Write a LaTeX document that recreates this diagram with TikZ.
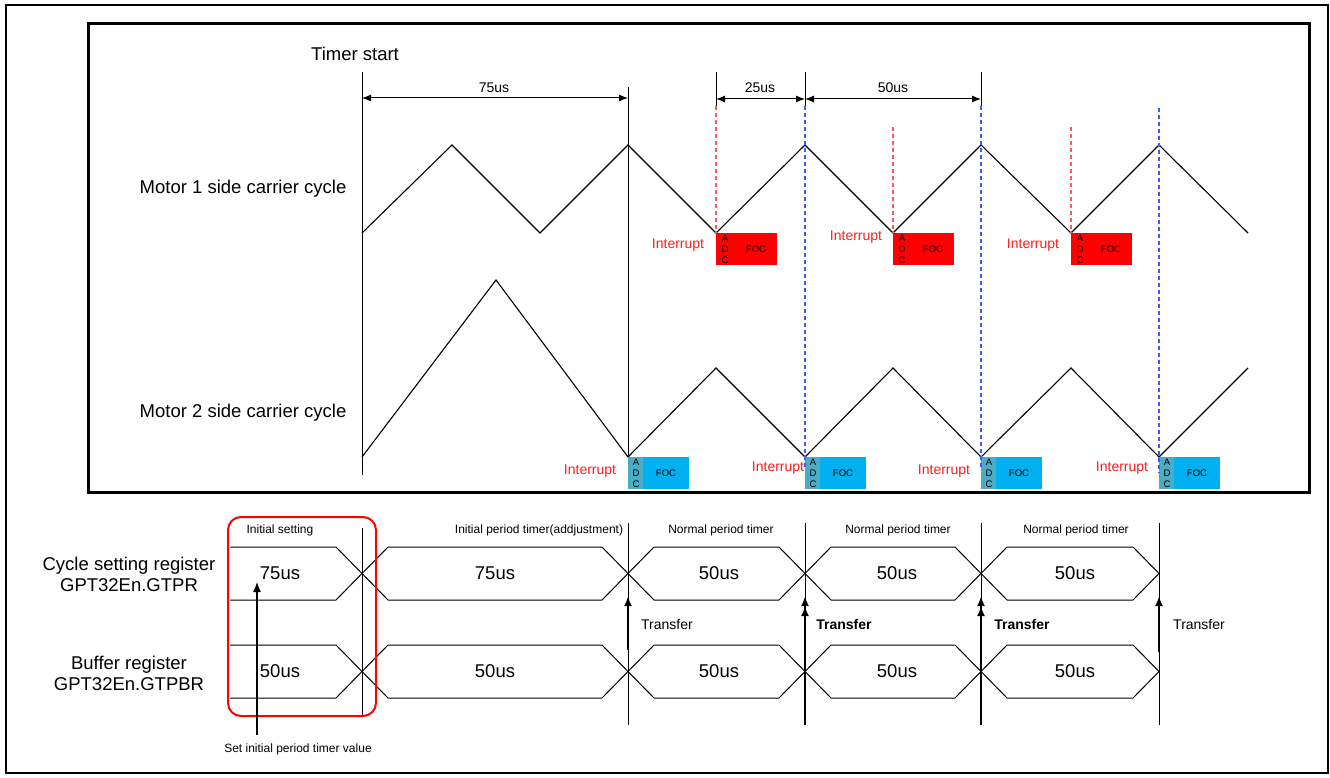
\documentclass[tikz,border=0pt]{standalone}
\usepackage{fontspec}
\setmainfont{Liberation Sans}
\usetikzlibrary{arrows.meta}
\definecolor{intred}{RGB}{255,30,30}
\definecolor{dashred}{RGB}{255,90,90}
\definecolor{dashblue}{RGB}{60,90,255}
\definecolor{adcteal}{RGB}{75,172,198}
\definecolor{foccyan}{RGB}{0,176,240}
\definecolor{boxred}{RGB}{255,0,0}
\tikzset{
  wave/.style={line width=1.1pt, line join=miter},
  vline/.style={line width=1pt},
  reddash/.style={dashred, line width=1.1pt, dash pattern=on 4pt off 3pt},
  bluedash/.style={dashblue, line width=1.1pt, dash pattern=on 4pt off 3pt},
  dimarrow/.style={line width=1pt, {Latex[length=9pt,width=7pt]}-{Latex[length=9pt,width=7pt]}},
  txtbig/.style={font=\fontsize{18.5}{21}\selectfont, inner sep=0, align=center},
  txtmid/.style={font=\fontsize{14}{16}\selectfont, inner sep=0},
  txtsmall/.style={font=\fontsize{12}{14}\selectfont, inner sep=0},
  txttiny/.style={font=\fontsize{9.5}{11}\selectfont, inner sep=0, align=center},
  intlbl/.style={txtmid, text=intred},
  busline/.style={line width=1pt, line join=miter},
  xfer/.style={line width=2pt, -{Latex[length=10pt,width=8pt]}},
  xferb/.style={line width=2pt, -{Latex[length=10pt,width=8pt]Latex[length=10pt,width=8pt]}},
  redblock/.style={fill=boxred, draw=none},
}
\begin{document}
\begin{tikzpicture}[x=1pt,y=-1pt]
\useasboundingbox (0,0) rectangle (1330,778);
\fill[white] (0,0) rectangle (1330,778);
% frames
\draw[line width=1.8pt] (6,5) rectangle (1328,773);
\draw[line width=3pt] (88,24) rectangle (1309,492);

% vertical timing lines (upper)
\draw[vline] (362,72) -- (362,475);
\draw[vline] (628,87) -- (628,489);
\draw[vline] (716,72) -- (716,106);
\draw[vline] (805,72) -- (805,106);
\draw[vline] (981,72) -- (981,106);

% dimension arrows
\coordinate (d0) at (362,98);
\coordinate (d1) at (628,98);
\coordinate (d2) at (716,99);
\coordinate (d3) at (805,99);
\coordinate (d4) at (981,99);
\draw[dimarrow] (d0) -- (d1);
\draw[dimarrow] (d2) -- (d3);
\draw[dimarrow] (d3) -- (d4);
\node[txtmid] (l75) at (494,88) {75us};
\node[txtmid] (l25) at (760,88) {25us};
\node[txtmid] (l50) at (893,88) {50us};

\node[txtbig] (tstart) at (355,54) {Timer start};
\node[txtbig] (m1) at (243,189) {Motor 1 side carrier cycle};
\node[txtbig] (m2) at (243,413) {Motor 2 side carrier cycle};

% carrier waves
\draw[wave] (362,233) -- (452,145) -- (540,233) -- (628,145) -- (716,233) -- (805,145) -- (893,233) -- (981,145) -- (1071,233) -- (1159,145) -- (1248,233);
\draw[wave] (362,457) -- (496,280) -- (628,457) -- (716,368) -- (805,457) -- (893,368) -- (981,457) -- (1071,368) -- (1159,457) -- (1248,368);

% motor 1 interrupt blocks
\foreach \x/\n in {716/a,893/b,1071/c}{
  \fill[redblock] (\x,233) rectangle ({\x+61},265);
  \node[txttiny] (adcr\n) at ({\x+9},249.5) {A\\D\\C};
  \node[txttiny] (focr\n) at ({\x+40},249) {FOC};
}
% motor 2 interrupt blocks
\foreach \x/\n in {628/a,805/b,981/c,1159/d}{
  \fill[adcteal] (\x,457) rectangle ({\x+15},489);
  \fill[foccyan] ({\x+15},457) rectangle ({\x+61},489);
  \node[txttiny] (adcb\n) at ({\x+8},473) {A\\D\\C};
  \node[txttiny] (focb\n) at ({\x+38},473) {FOC};
}

% dashed interrupt markers
\draw[reddash] (716,106) -- (716,233);
\draw[reddash] (893,127) -- (893,233);
\draw[reddash] (1071,127) -- (1071,233);
\draw[bluedash] (805,106) -- (805,467);
\draw[bluedash] (981,106) -- (981,467);
\draw[bluedash] (1159,108) -- (1159,473);

% interrupt labels
\node[intlbl] (i1) at (678,245) {Interrupt};
\node[intlbl] (i2) at (856,237) {Interrupt};
\node[intlbl] (i3) at (1033,245) {Interrupt};
\node[intlbl] (j1) at (590,471) {Interrupt};
\node[intlbl] (j2) at (778,468) {Interrupt};
\node[intlbl] (j3) at (944,471) {Interrupt};
\node[intlbl] (j4) at (1122,468) {Interrupt};

% ---------------- lower section ----------------
\node[txtbig] (creg) at (129,574) {Cycle setting register\\GPT32En.GTPR};
\node[txtbig] (breg) at (129,673) {Buffer register\\GPT32En.GTPBR};

% vertical lines lower
\draw[vline] (362,528) -- (362,716);
\foreach \x in {628,805,981,1159}{
  \draw[vline] (\x,523) -- (\x,725);
}

% bus shapes
\foreach \t/\b/\m in {547/600/573.5, 645/698/671.5}{
  \draw[busline] (230,\t) -- (336,\t) -- (388,\b) -- (602,\b) -- (654,\t) -- (779,\t) -- (831,\b) -- (955,\b) -- (1007,\t) -- (1133,\t) -- (1159,\m) -- (1133,\b) -- (1007,\b) -- (955,\t) -- (831,\t) -- (779,\b) -- (654,\b) -- (602,\t) -- (388,\t) -- (336,\b) -- (230,\b);
}

% red rounded frame
\draw[boxred, line width=2pt, rounded corners=13pt] (228,517) rectangle (376,716);

% period labels
\node[txtsmall] (p0) at (280,530) {Initial setting};
\node[txtsmall] (p1) at (539,530) {Initial period timer(addjustment)};
\node[txtsmall] (p2) at (721,530) {Normal period timer};
\node[txtsmall] (p3) at (898,530) {Normal period timer};
\node[txtsmall] (p4) at (1076,530) {Normal period timer};

% values
\node[txtbig] (v10) at (280,573) {75us};
\node[txtbig] (v11) at (495,573) {75us};
\node[txtbig] (v12) at (719,573) {50us};
\node[txtbig] (v13) at (897,573) {50us};
\node[txtbig] (v14) at (1075,573) {50us};
\node[txtbig] (v20) at (280,671) {50us};
\node[txtbig] (v21) at (495,671) {50us};
\node[txtbig] (v22) at (719,671) {50us};
\node[txtbig] (v23) at (897,671) {50us};
\node[txtbig] (v24) at (1075,671) {50us};

% transfer arrows
\coordinate (ta0) at (628,650); \coordinate (tb0) at (628,596);
\coordinate (ta1) at (805,725); \coordinate (tb1) at (805,596);
\coordinate (ta2) at (981,725); \coordinate (tb2) at (981,596);
\coordinate (ta3) at (1159,652); \coordinate (tb3) at (1159,596);
\draw[xfer] (ta0) -- (tb0);
\draw[xferb] (ta1) -- (tb1);
\draw[xferb] (ta2) -- (tb2);
\draw[xfer] (ta3) -- (tb3);
\node[txtmid] (t0) at (667,624) {Transfer};
\node[txtmid, font=\fontsize{14}{16}\selectfont\bfseries] (t1) at (844,624) {Transfer};
\node[txtmid, font=\fontsize{14}{16}\selectfont\bfseries] (t2) at (1022,624) {Transfer};
\node[txtmid] (t3) at (1199,624) {Transfer};

% set initial value arrow
\node[txtsmall] (setinit) at (298,749) {Set initial period timer value};
\coordinate (sa) at (257,735);
\coordinate (sb) at (257,582);
\draw[line width=1.2pt, -{Latex[length=10pt,width=8pt]}] (sa) -- (sb);
\end{tikzpicture}
\end{document}
